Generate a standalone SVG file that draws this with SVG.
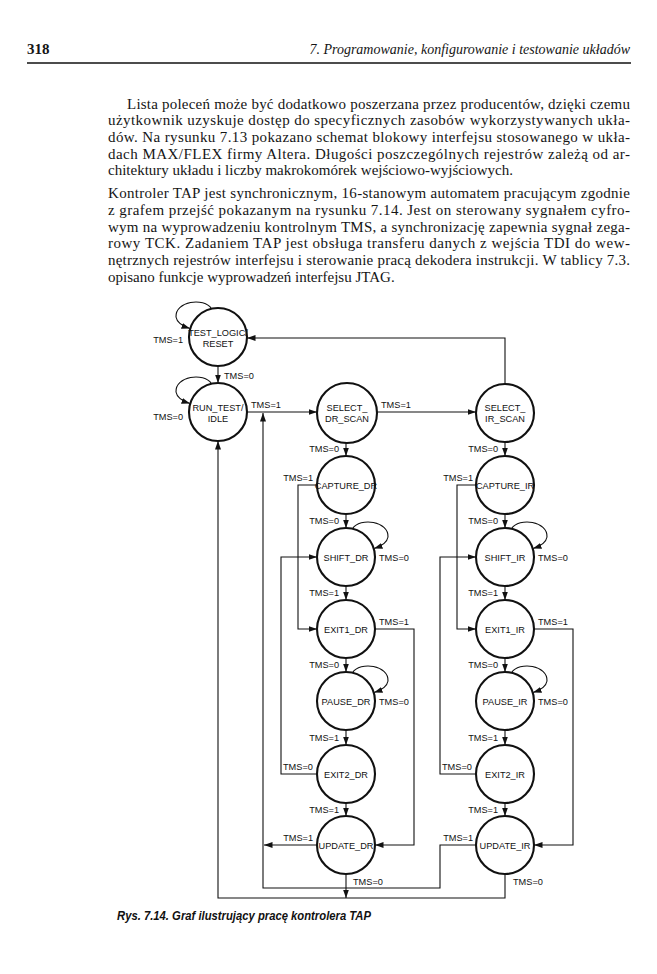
<svg xmlns="http://www.w3.org/2000/svg" width="657" height="974" viewBox="0 0 657 974">
<style>
.body{font-family:"Liberation Serif","Times New Roman",serif;font-size:15px;fill:#151515}
.hdr{font-family:"Liberation Serif","Times New Roman",serif;fill:#151515}
.n circle{fill:none;stroke:#111;stroke-width:2.1}
.n text{font-family:"Liberation Sans",Arial,sans-serif;font-size:9.2px;fill:#111;text-anchor:middle}
.lbl{font-family:"Liberation Sans",Arial,sans-serif;font-size:9.2px;fill:#111}
.e{text-anchor:end}
#conn path{fill:none;stroke:#111;stroke-width:1.1}
.cap{font-family:"Liberation Sans",Arial,sans-serif;font-size:12.5px;font-weight:bold;font-style:italic;fill:#111}
</style>
<defs>
<marker id="a" markerUnits="userSpaceOnUse" markerWidth="9" markerHeight="6" refX="8.5" refY="3" orient="auto">
<path d="M0,0 L8.5,3 L0,6 z" fill="#111"/>
</marker>
</defs>
<rect width="657" height="974" fill="#fff"/>

<!-- header -->
<text class="hdr" x="27" y="54" font-size="15" font-weight="bold">318</text>
<text class="hdr" x="630" y="54" font-size="14" font-style="italic" text-anchor="end">7. Programowanie, konfigurowanie i testowanie układów</text>
<line x1="27" y1="63" x2="631" y2="63" stroke="#111" stroke-width="1.6"/>

<!-- body -->
<g class="body">
<text x="127" y="108.5" textLength="503" lengthAdjust="spacing">Lista poleceń może być dodatkowo poszerzana przez producentów, dzięki czemu</text>
<text x="108" y="125.2" textLength="522" lengthAdjust="spacing">użytkownik uzyskuje dostęp do specyficznych zasobów wykorzystywanych ukła-</text>
<text x="108" y="141.9" textLength="522" lengthAdjust="spacing">dów. Na rysunku 7.13 pokazano schemat blokowy interfejsu stosowanego w ukła-</text>
<text x="108" y="158.6" textLength="522" lengthAdjust="spacing">dach MAX/FLEX firmy Altera. Długości poszczególnych rejestrów zależą od ar-</text>
<text x="108" y="175.3">chitektury układu i liczby makrokomórek wejściowo-wyjściowych.</text>
<text x="108" y="198.3" textLength="522" lengthAdjust="spacing">Kontroler TAP jest synchronicznym, 16-stanowym automatem pracującym zgodnie</text>
<text x="108" y="215" textLength="522" lengthAdjust="spacing">z grafem przejść pokazanym na rysunku 7.14. Jest on sterowany sygnałem cyfro-</text>
<text x="108" y="231.7" textLength="522" lengthAdjust="spacing">wym na wyprowadzeniu kontrolnym TMS, a synchronizację zapewnia sygnał zega-</text>
<text x="108" y="248.4" textLength="522" lengthAdjust="spacing">rowy TCK. Zadaniem TAP jest obsługa transferu danych z wejścia TDI do wew-</text>
<text x="108" y="265.1" textLength="522" lengthAdjust="spacing">nętrznych rejestrów interfejsu i sterowanie pracą dekodera instrukcji. W tablicy 7.3.</text>
<text x="108" y="281.8">opisano funkcje wyprowadzeń interfejsu JTAG.</text>
</g>

<!-- connectors -->
<g id="conn">
<!-- self loops -->
<path marker-end="url(#a)" d="M211.5,308.7 C204,297 175,301 176,317 C177,323 182,326 190,328.5"/>
<path marker-end="url(#a)" d="M211.5,383.7 C204,372 175,376 176,392 C177,398 182,401 190,403.5"/>
<path marker-end="url(#a)" d="M352.5,528.7 C360,517 389,521 388,537 C387,543 382,546 374,548.5"/>
<path marker-end="url(#a)" d="M352.5,672.7 C360,661 389,665 388,681 C387,687 382,690 374,692.5"/>
<path marker-end="url(#a)" d="M511.5,528.7 C519,517 548,521 547,537 C546,543 541,546 533,548.5"/>
<path marker-end="url(#a)" d="M511.5,672.7 C519,661 548,665 547,681 C546,687 541,690 533,692.5"/>
<!-- top part -->
<path marker-end="url(#a)" d="M218,366 V383"/>
<path marker-end="url(#a)" d="M247,412 H317"/>
<path marker-end="url(#a)" d="M377,412 H476"/>
<path marker-end="url(#a)" d="M505,384 V338 H247"/>
<!-- DR column -->
<path marker-end="url(#a)" d="M346,443 V456"/>
<path marker-end="url(#a)" d="M346,514 V528"/>
<path marker-end="url(#a)" d="M346,586 V600"/>
<path marker-end="url(#a)" d="M346,658 V672"/>
<path marker-end="url(#a)" d="M346,730 V745"/>
<path marker-end="url(#a)" d="M346,803 V816"/>
<path marker-end="url(#a)" d="M317,485 H298 V629 H317"/>
<path marker-end="url(#a)" d="M317,774 H281 V557 H317"/>
<path marker-end="url(#a)" d="M375,629 H414 V845 H375"/>
<path marker-end="url(#a)" d="M317,845 H264"/>
<path marker-end="url(#a)" d="M346,874 V898"/>
<!-- IR column -->
<path marker-end="url(#a)" d="M505,442 V456"/>
<path marker-end="url(#a)" d="M505,514 V528"/>
<path marker-end="url(#a)" d="M505,586 V600"/>
<path marker-end="url(#a)" d="M505,658 V672"/>
<path marker-end="url(#a)" d="M505,730 V745"/>
<path marker-end="url(#a)" d="M505,803 V816"/>
<path marker-end="url(#a)" d="M476,485 H457 V629 H476"/>
<path marker-end="url(#a)" d="M476,774 H440 V557 H476"/>
<path marker-end="url(#a)" d="M534,629 H573 V845 H534"/>
<!-- returns -->
<path marker-end="url(#a)" d="M476,845 H440 V888 H263 V413"/>
<path marker-end="url(#a)" d="M505,874 V898 H218 V441"/>
</g>

<!-- labels -->
<g id="labels">
<text class="lbl e" x="183" y="343">TMS=1</text>
<text class="lbl" x="224" y="379">TMS=0</text>
<text class="lbl e" x="183" y="420">TMS=0</text>
<text class="lbl" x="251" y="408">TMS=1</text>
<text class="lbl" x="381" y="408">TMS=1</text>

<text class="lbl e" x="339" y="452">TMS=0</text>
<text class="lbl e" x="313" y="481">TMS=1</text>
<text class="lbl e" x="339" y="524">TMS=0</text>
<text class="lbl" x="379" y="561">TMS=0</text>
<text class="lbl e" x="339" y="596">TMS=1</text>
<text class="lbl" x="379" y="625">TMS=1</text>
<text class="lbl e" x="339" y="668">TMS=0</text>
<text class="lbl" x="379" y="705">TMS=0</text>
<text class="lbl e" x="339" y="741">TMS=1</text>
<text class="lbl" x="283" y="770">TMS=0</text>
<text class="lbl e" x="339" y="813">TMS=1</text>
<text class="lbl e" x="313" y="841">TMS=1</text>
<text class="lbl" x="353" y="885">TMS=0</text>

<text class="lbl e" x="498" y="452">TMS=0</text>
<text class="lbl e" x="473" y="481">TMS=1</text>
<text class="lbl e" x="498" y="524">TMS=0</text>
<text class="lbl" x="538" y="561">TMS=0</text>
<text class="lbl e" x="498" y="596">TMS=1</text>
<text class="lbl" x="538" y="625">TMS=1</text>
<text class="lbl e" x="498" y="668">TMS=0</text>
<text class="lbl" x="538" y="705">TMS=0</text>
<text class="lbl e" x="498" y="741">TMS=1</text>
<text class="lbl" x="442" y="770">TMS=0</text>
<text class="lbl e" x="498" y="813">TMS=1</text>
<text class="lbl e" x="473" y="841">TMS=1</text>
<text class="lbl" x="513" y="885">TMS=0</text>
</g>

<!-- nodes -->
<g id="test_logic_reset" class="n"><circle cx="218" cy="337" r="29"/><text x="218" y="336">TEST_LOGIC/</text><text x="218" y="347">RESET</text></g>
<g id="run_test_idle" class="n"><circle cx="218" cy="412" r="29"/><text x="218" y="411">RUN_TEST/</text><text x="218" y="422">IDLE</text></g>
<g id="select_dr_scan" class="n"><circle cx="347" cy="413" r="30"/><text x="347" y="411">SELECT_</text><text x="347" y="422">DR_SCAN</text></g>
<g id="select_ir_scan" class="n"><circle cx="505" cy="413" r="29"/><text x="505" y="411">SELECT_</text><text x="505" y="422">IR_SCAN</text></g>
<g id="capture_dr" class="n"><circle cx="346" cy="485" r="29"/><text x="346" y="488.5">CAPTURE_DR</text></g>
<g id="shift_dr" class="n"><circle cx="346" cy="557" r="29"/><text x="346" y="560.5">SHIFT_DR</text></g>
<g id="exit1_dr" class="n"><circle cx="346" cy="629" r="29"/><text x="346" y="632.5">EXIT1_DR</text></g>
<g id="pause_dr" class="n"><circle cx="346" cy="701" r="29"/><text x="346" y="704.5">PAUSE_DR</text></g>
<g id="exit2_dr" class="n"><circle cx="346" cy="774" r="29"/><text x="346" y="777.5">EXIT2_DR</text></g>
<g id="update_dr" class="n"><circle cx="346" cy="845" r="29"/><text x="346" y="848.5">UPDATE_DR</text></g>
<g id="capture_ir" class="n"><circle cx="505" cy="485" r="29"/><text x="505" y="488.5">CAPTURE_IR</text></g>
<g id="shift_ir" class="n"><circle cx="505" cy="557" r="29"/><text x="505" y="560.5">SHIFT_IR</text></g>
<g id="exit1_ir" class="n"><circle cx="505" cy="629" r="29"/><text x="505" y="632.5">EXIT1_IR</text></g>
<g id="pause_ir" class="n"><circle cx="505" cy="701" r="29"/><text x="505" y="704.5">PAUSE_IR</text></g>
<g id="exit2_ir" class="n"><circle cx="505" cy="774" r="29"/><text x="505" y="777.5">EXIT2_IR</text></g>
<g id="update_ir" class="n"><circle cx="505" cy="845" r="29"/><text x="505" y="848.5">UPDATE_IR</text></g>

<!-- caption -->
<text class="cap" x="117" y="920" textLength="254" lengthAdjust="spacingAndGlyphs">Rys. 7.14. Graf ilustrujący pracę kontrolera TAP</text>
</svg>
